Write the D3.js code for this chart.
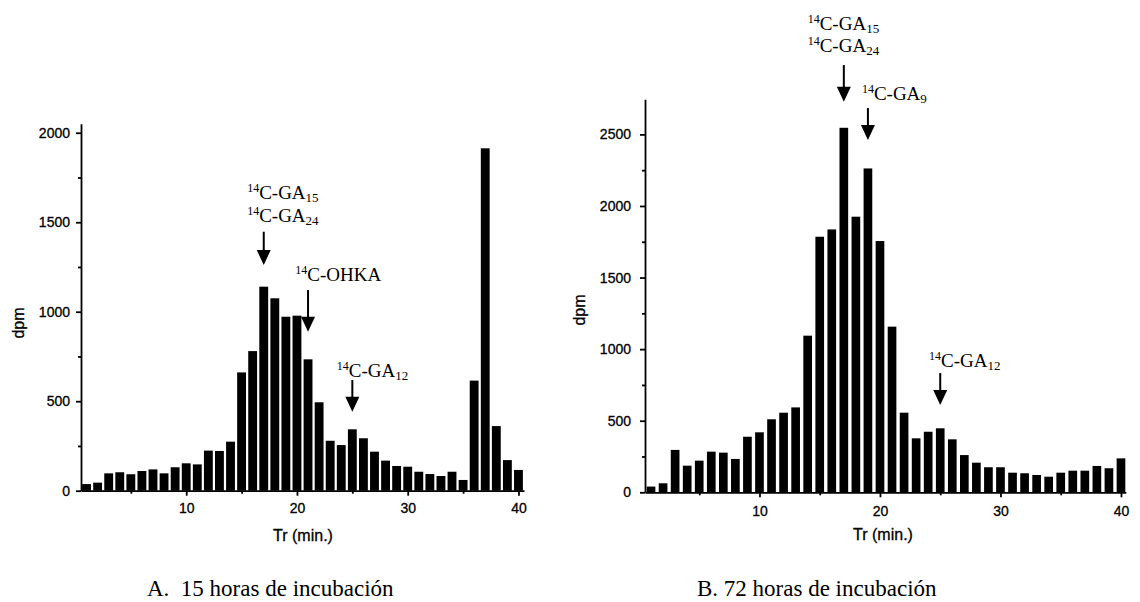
<!DOCTYPE html>
<html>
<head>
<meta charset="utf-8">
<script src="https://cdn.jsdelivr.net/npm/d3@7"></script>
<style>
  body { margin: 0; background: #fff; }
  svg { display: block; }
  .tick text { font-family: "Liberation Sans", Arial, sans-serif; font-size: 14px; fill: #000; stroke: #000; stroke-width: 0.3; }
  .domain, .tick line { stroke: #000; stroke-width: 1.8; }
  .axis-title { font-family: "Liberation Sans", Arial, sans-serif; font-size: 16px; fill: #000; stroke: #000; stroke-width: 0.3; }
  .caption { font-family: "Liberation Serif", "Times New Roman", serif; font-size: 23px; fill: #000; }
  .note { font-family: "Liberation Serif", "Times New Roman", serif; fill: #000; }
</style>
</head>
<body>
<svg width="1140" height="602"></svg>
<script>
// retention time (min.)
var minutes = [1,2,3,4,5,6,7,8,9,10,11,12,13,14,15,16,17,18,19,20,
               21,22,23,24,25,26,27,28,29,30,31,32,33,34,35,36,37,38,39,40];

// dpm after 15 h of incubation
var dpm15 = [37,45,97,103,92,110,119,97,131,153,
             147,224,222,274,661,780,1140,1075,972,978,
             734,494,279,255,343,293,218,168,138,134,
             106,93,82,106,60,615,1913,361,171,116];

// dpm after 72 h of incubation
var dpm72 = [40,63,296,186,221,284,277,233,388,419,
             510,556,593,1094,1785,1836,2546,1925,2262,1755,
             1157,556,377,423,447,370,260,207,175,175,
             137,133,121,109,137,151,151,184,168,237];

var xMajor = [10,20,30,40];
var xMinor = [5,15,25,35];
var yMajorA = [0,500,1000,1500,2000];
var yMinorA = [250,750,1250,1750];
var yMajorB = [0,500,1000,1500,2000,2500];
var yMinorB = [250,750,1250,1750,2250];

var svg = d3.select("svg");

var drawPanel = function(cfg){
  var x = d3.scaleLinear().domain(cfg.xDomain).range(cfg.xRange);
  var y = d3.scaleLinear().domain(cfg.yDomain).range(cfg.yRange);
  var g = svg.append("g");
  var bw = (x(2) - x(1)) * cfg.barFrac;

  g.selectAll("rect.bar")
    .data(cfg.values)
    .enter().append("rect")
    .attr("class","bar")
    .attr("x", function(d,i){ return x(minutes[i]) - bw/2; })
    .attr("y", function(d){ return y(d); })
    .attr("width", bw)
    .attr("height", function(d){ return y(0) - y(d); })
    .attr("fill","#000");

  var y0 = cfg.yRange[0];
  // x axis
  g.append("g").attr("transform","translate(0,"+y0+")")
    .call(d3.axisBottom(x).tickValues(xMinor).tickSize(3).tickFormat(""))
    .select(".domain").remove();
  g.append("g").attr("transform","translate(0,"+y0+")")
    .call(d3.axisBottom(x).tickValues(xMajor).tickSize(5).tickSizeOuter(0)
      .tickPadding(cfg.xPad).tickFormat(d3.format("d")));
  // y axis
  var xl = cfg.xRange[0];
  g.append("g").attr("transform","translate("+xl+",0)")
    .call(d3.axisLeft(y).tickValues(cfg.yMinor).tickSize(3).tickFormat(""))
    .select(".domain").remove();
  g.append("g").attr("transform","translate("+xl+",0)")
    .call(d3.axisLeft(y).tickValues(cfg.yMajor).tickSize(5).tickSizeOuter(0)
      .tickPadding(cfg.yPad).tickFormat(d3.format("d")));

  g.append("text").attr("class","axis-title")
    .attr("text-anchor","middle")
    .attr("transform","translate("+cfg.yTitle[0]+","+cfg.yTitle[1]+")rotate(-90)")
    .text("dpm");
  g.append("text").attr("class","axis-title")
    .attr("text-anchor","middle")
    .attr("x", cfg.xTitle[0]).attr("y", cfg.xTitle[1])
    .text("Tr (min.)");
  g.append("text").attr("class","caption")
    .attr("x", cfg.caption[0]).attr("y", cfg.caption[1])
    .attr("xml:space","preserve")
    .text(cfg.captionText);

  // labels: ¹⁴C-GAₙ
  cfg.notes.forEach(function(n){
    var t = g.append("text").attr("class","note")
      .attr("x", x(n.x)).attr("y", y(n.y));
    t.append("tspan").attr("font-size",12).attr("dy",-7).text("14");
    t.append("tspan").attr("font-size",19).attr("dy",7).text(n.main);
    if(n.sub){
      t.append("tspan").attr("font-size",13).attr("dy",3).text(n.sub);
    }
  });

  cfg.arrows.forEach(function(a){
    var ax = x(a.x), top = y(a.from), tip = y(a.to);
    g.append("line")
      .attr("x1",ax).attr("x2",ax)
      .attr("y1",top).attr("y2",tip-12)
      .attr("stroke","#000").attr("stroke-width",2);
    g.append("path")
      .attr("d","M"+(ax-7)+","+(tip-15)+"L"+(ax+7)+","+(tip-15)+"L"+ax+","+tip+"Z")
      .attr("fill","#000");
  });
};

drawPanel({
  values: dpm15,
  xDomain: [0.5, 40.5], xRange: [81, 524],
  yDomain: [0, 2050], yRange: [490.7, 123.8],
  barFrac: 0.8,
  yMajor: yMajorA, yMinor: yMinorA,
  xPad: 7, yPad: 6,
  yTitle: [24, 323], xTitle: [303, 541],
  caption: [147, 596], captionText: "A.  15 horas de incubación",
  notes: [
    {x: 15.5, y: 1630, main: "C-GA", sub: "15"},
    {x: 15.5, y: 1501, main: "C-GA", sub: "24"},
    {x: 19.85, y: 1171, main: "C-OHKA"},
    {x: 23.6, y: 635, main: "C-GA", sub: "12"}
  ],
  arrows: [
    {x: 17, from: 1447, to: 1261},
    {x: 21, from: 1121, to: 888},
    {x: 25, from: 618, to: 441}
  ]
});

drawPanel({
  values: dpm72,
  xDomain: [0.5, 40.4], xRange: [645, 1125.8],
  yDomain: [0, 2745], yRange: [492.3, 99.3],
  barFrac: 0.72,
  yMajor: yMajorB, yMinor: yMinorB,
  xPad: 9, yPad: 9,
  yTitle: [585, 310], xTitle: [883, 540],
  caption: [697, 596], captionText: "B. 72 horas de incubación",
  notes: [
    {x: 14.0, y: 3228, main: "C-GA", sub: "15"},
    {x: 14.0, y: 3075, main: "C-GA", sub: "24"},
    {x: 18.5, y: 2740, main: "C-GA", sub: "9"},
    {x: 24.07, y: 876, main: "C-GA", sub: "12"}
  ],
  arrows: [
    {x: 17, from: 2984, to: 2728},
    {x: 19, from: 2684, to: 2460},
    {x: 25, from: 833, to: 610}
  ]
});
</script>
</body>
</html>
